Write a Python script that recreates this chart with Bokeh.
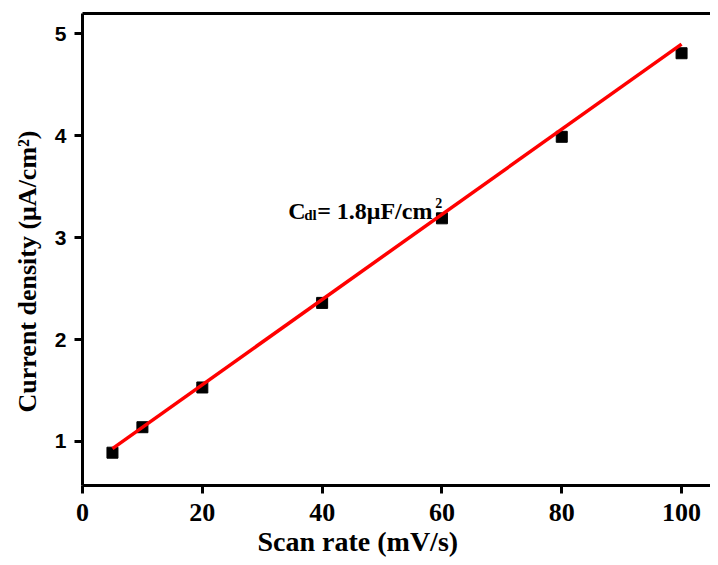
from bokeh.plotting import figure
from bokeh.models import Label, LinearAxis, FixedTicker, Range1d, Title
from bokeh.embed import file_html
from bokeh.resources import INLINE

# Data
scan_rate = [5, 10, 20, 40, 60, 80, 100]
current_density = [0.89, 1.14, 1.53, 2.36, 3.19, 3.99, 4.81]
fit_x = [5, 100]
fit_y = [0.93, 4.90]
x_ticks = [0, 20, 40, 60, 80, 100]
y_ticks = [1, 2, 3, 4, 5]

SERIF = "Liberation Serif"
SANS = "Liberation Sans"

p = figure(width=710, height=557,
           x_range=Range1d(0, 104.83), y_range=Range1d(0.568, 5.2),
           output_backend="svg", toolbar_location=None,
           min_border_left=81, min_border_right=0,
           min_border_top=13, min_border_bottom=72)
p.xgrid.visible = False
p.ygrid.visible = False
p.outline_line_color = None
p.background_fill_color = "white"
p.border_fill_color = "white"

for ax in (p.xaxis[0], p.yaxis[0]):
    ax.axis_line_width = 3
    ax.axis_line_color = "black"
    ax.major_tick_line_width = 3
    ax.major_tick_out = 8
    ax.major_tick_in = 0
    ax.minor_tick_out = 0
    ax.minor_tick_in = 0
    ax.major_label_text_font_style = "bold"
    ax.major_label_text_color = "black"

p.xaxis[0].ticker = FixedTicker(ticks=x_ticks)
p.xaxis[0].major_label_text_font = SERIF
p.xaxis[0].major_label_text_font_size = "26px"
p.xaxis[0].major_label_standoff = 10
p.yaxis[0].ticker = FixedTicker(ticks=y_ticks)
p.yaxis[0].major_label_text_font = SANS
p.yaxis[0].major_label_text_font_size = "21px"
p.yaxis[0].major_label_standoff = 8

top = LinearAxis(ticker=FixedTicker(ticks=[]), axis_line_width=3,
                 axis_line_color="black", major_label_text_font_size="0px",
                 major_tick_out=0, major_tick_in=0,
                 minor_tick_out=0, minor_tick_in=0)
p.add_layout(top, "above")

p.scatter(scan_rate, current_density, marker="square", size=11,
          fill_color="black", line_color="black")
p.line(fit_x, fit_y, line_color="#ff0000", line_width=3.5)

# Axis titles (as side titles so they can be shifted along the axis)
p.add_layout(Title(text="Scan rate (mV/s)", align="left", offset=175,
                   standoff=0, text_font=SERIF, text_font_size="28px",
                   text_font_style="bold", text_color="black"), "below")
p.add_layout(Title(text="Current density (μA/cm²)", align="left", offset=73,
                   standoff=20, text_font=SERIF, text_font_size="26px",
                   text_font_style="bold", text_color="black"), "left")

# Annotation C_dl = 1.8 µF/cm²
ax0, ay0 = 34.33, 3.26
common = dict(x=ax0, y=ay0, text_baseline="alphabetic", text_align="left",
              text_font=SERIF, text_font_style="bold", text_color="black")
p.add_layout(Label(text="C", text_font_size="24px", **common))
p.add_layout(Label(text="dl", text_font_size="15px", x_offset=16, y_offset=-4, **common))
p.add_layout(Label(text="= 1.8μF/cm", text_font_size="24px", x_offset=29, **common))
p.add_layout(Label(text="2", text_font_size="14px", x_offset=147, y_offset=8, **common))

open("out.html", "w").write(file_html(p, INLINE))
